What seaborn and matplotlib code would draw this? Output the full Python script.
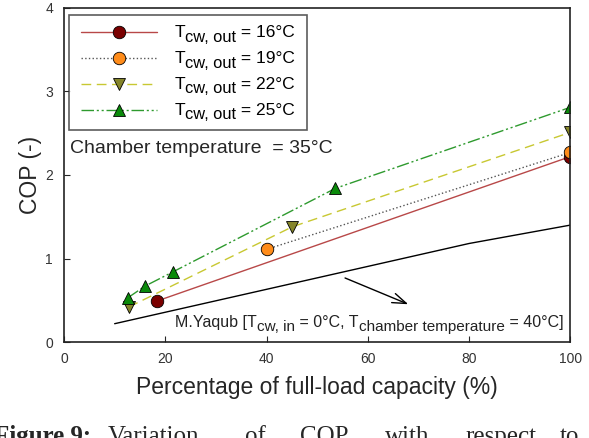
import pandas as pd
import matplotlib.pyplot as plt
import seaborn as sns

# --- DATA ---
x_16 = [18.3, 100]
cop_16 = [0.49, 2.22]

x_19 = [40, 100]
cop_19 = [1.11, 2.27]

x_22 = [12.8, 45.1, 100]
cop_22 = [0.42, 1.38, 2.51]

x_25 = [12.6, 16.0, 21.5, 53.6, 100]
cop_25 = [0.53, 0.67, 0.84, 1.84, 2.81]

x_yaqub = [10, 80, 100]
cop_yaqub = [0.22, 1.18, 1.40]

temps = ["16", "19", "22", "25"]

sns.set_style("ticks")
plt.rcParams["font.family"] = ["Liberation Sans", "DejaVu Sans"]


def rich(ax, pieces, xy, xycoords, color="black", z=6):
    # pieces: (text, fontsize, dy in points relative to previous piece)
    prev = None
    for s, fs, dy in pieces:
        if prev is None:
            t = ax.annotate(s, xy=xy, xycoords=xycoords, xytext=(0, dy),
                            textcoords="offset points", fontsize=fs,
                            ha="left", va="bottom", color=color, zorder=z,
                            annotation_clip=False)
        else:
            t = ax.annotate(s, xy=(1, 0), xycoords=prev, xytext=(0, dy),
                            textcoords="offset points", fontsize=fs,
                            ha="left", va="bottom", color=color, zorder=z,
                            annotation_clip=False)
        prev = t


fig = plt.figure(figsize=(5.89, 4.38), dpi=100)
ax = fig.add_axes([0.1087, 0.219, 0.8596, 0.763])

series = [
    (x_16, cop_16, "#b84848", "-", "o", "#7a0000"),
    (x_19, cop_19, "#555555", ":", "o", "#ff8c1a"),
    (x_22, cop_22, "#c8c832", (0, (7, 4)), "v", "#85852a"),
    (x_25, cop_25, "#2e9a2e", (0, (9, 2, 1.5, 2, 1.5, 2)), "^", "#0a8a0a"),
]

for (xs, ys, lc, ls, mk, mc), t in zip(series, temps):
    df = pd.DataFrame({"x": xs, "y": ys})
    sns.lineplot(x="x", y="y", data=df, ax=ax, sort=False,
                 label="Tcw, out = " + t + "°C",
                 color=lc, linestyle=ls, linewidth=1.0, marker=mk,
                 markersize=9, markerfacecolor=mc, markeredgecolor="black",
                 markeredgewidth=0.6)

yq = pd.DataFrame({"x": x_yaqub, "y": cop_yaqub})
sns.lineplot(x="x", y="y", data=yq, ax=ax, sort=False, color="black",
             linewidth=1.0, legend=False)

ax.annotate("", xy=(68.5, 0.44), xytext=(55, 0.78),
            arrowprops=dict(arrowstyle="->,head_length=1.0,head_width=0.35",
                            color="black", lw=1.0))

rich(ax, [("M.Yaqub [T", 11.5, 0), ("cw, in", 11, -3),
          (" = 0°C, T", 11.5, 3), ("chamber temperature", 11, -3),
          (" = 40°C]", 11.5, 3)],
     xy=(22.0, 0.15), xycoords="data", color="#222222", z=3)

ax.text(1.2, 2.32, "Chamber temperature  = 35°C", fontsize=14,
        ha="left", va="center")

ax.set_xlim(0, 100)
ax.set_ylim(0, 4)
ax.set_xticks([0, 20, 40, 60, 80, 100])
ax.set_yticks([0, 1, 2, 3, 4])
ax.tick_params(direction="in", length=4, labelsize=10, labelcolor="#333333")
ax.tick_params(axis="y", pad=8)
ax.tick_params(axis="x", pad=7)
for s in ax.spines.values():
    s.set_linewidth(1.2)
    s.set_color("#222222")

ax.set_xlabel("Percentage of full-load capacity (%)", fontsize=16.5, labelpad=7)
ax.set_ylabel("COP (-)", fontsize=16.5, labelpad=2)

leg = ax.legend(loc="upper left", bbox_to_anchor=(0.0, 0.995), fontsize=12.5,
                frameon=True, fancybox=False, edgecolor="#333333",
                handlelength=4.4, borderpad=0.65, labelspacing=0.62,
                handletextpad=1.0, borderaxespad=0.3)
leg.get_frame().set_linewidth(1.2)

# draw the legend labels with full-size subscripts on top of hidden placeholders
for txt, t in zip(leg.get_texts(), temps):
    txt.set_alpha(0)
    rich(ax, [("T", 12.5, 0), ("cw, out", 11.8, -3), (" = " + t + "°C", 12.5, 3)],
         xy=(0, 0.05), xycoords=txt)

# caption (cut off at the bottom in the reference)
cap_words = [("Figure 9:", -0.01, "bold"), ("Variation", 0.183, "normal"),
             ("of", 0.416, "normal"), ("COP", 0.509, "normal"),
             ("with", 0.654, "normal"), ("respect", 0.79, "normal"),
             ("to", 0.951, "normal")]
for w, xp, fw in cap_words:
    fig.text(xp, -0.012, w, fontsize=18, family=["Liberation Serif", "DejaVu Serif"],
             fontweight=fw, ha="left", va="baseline")

fig.savefig("out.png", dpi=100)
